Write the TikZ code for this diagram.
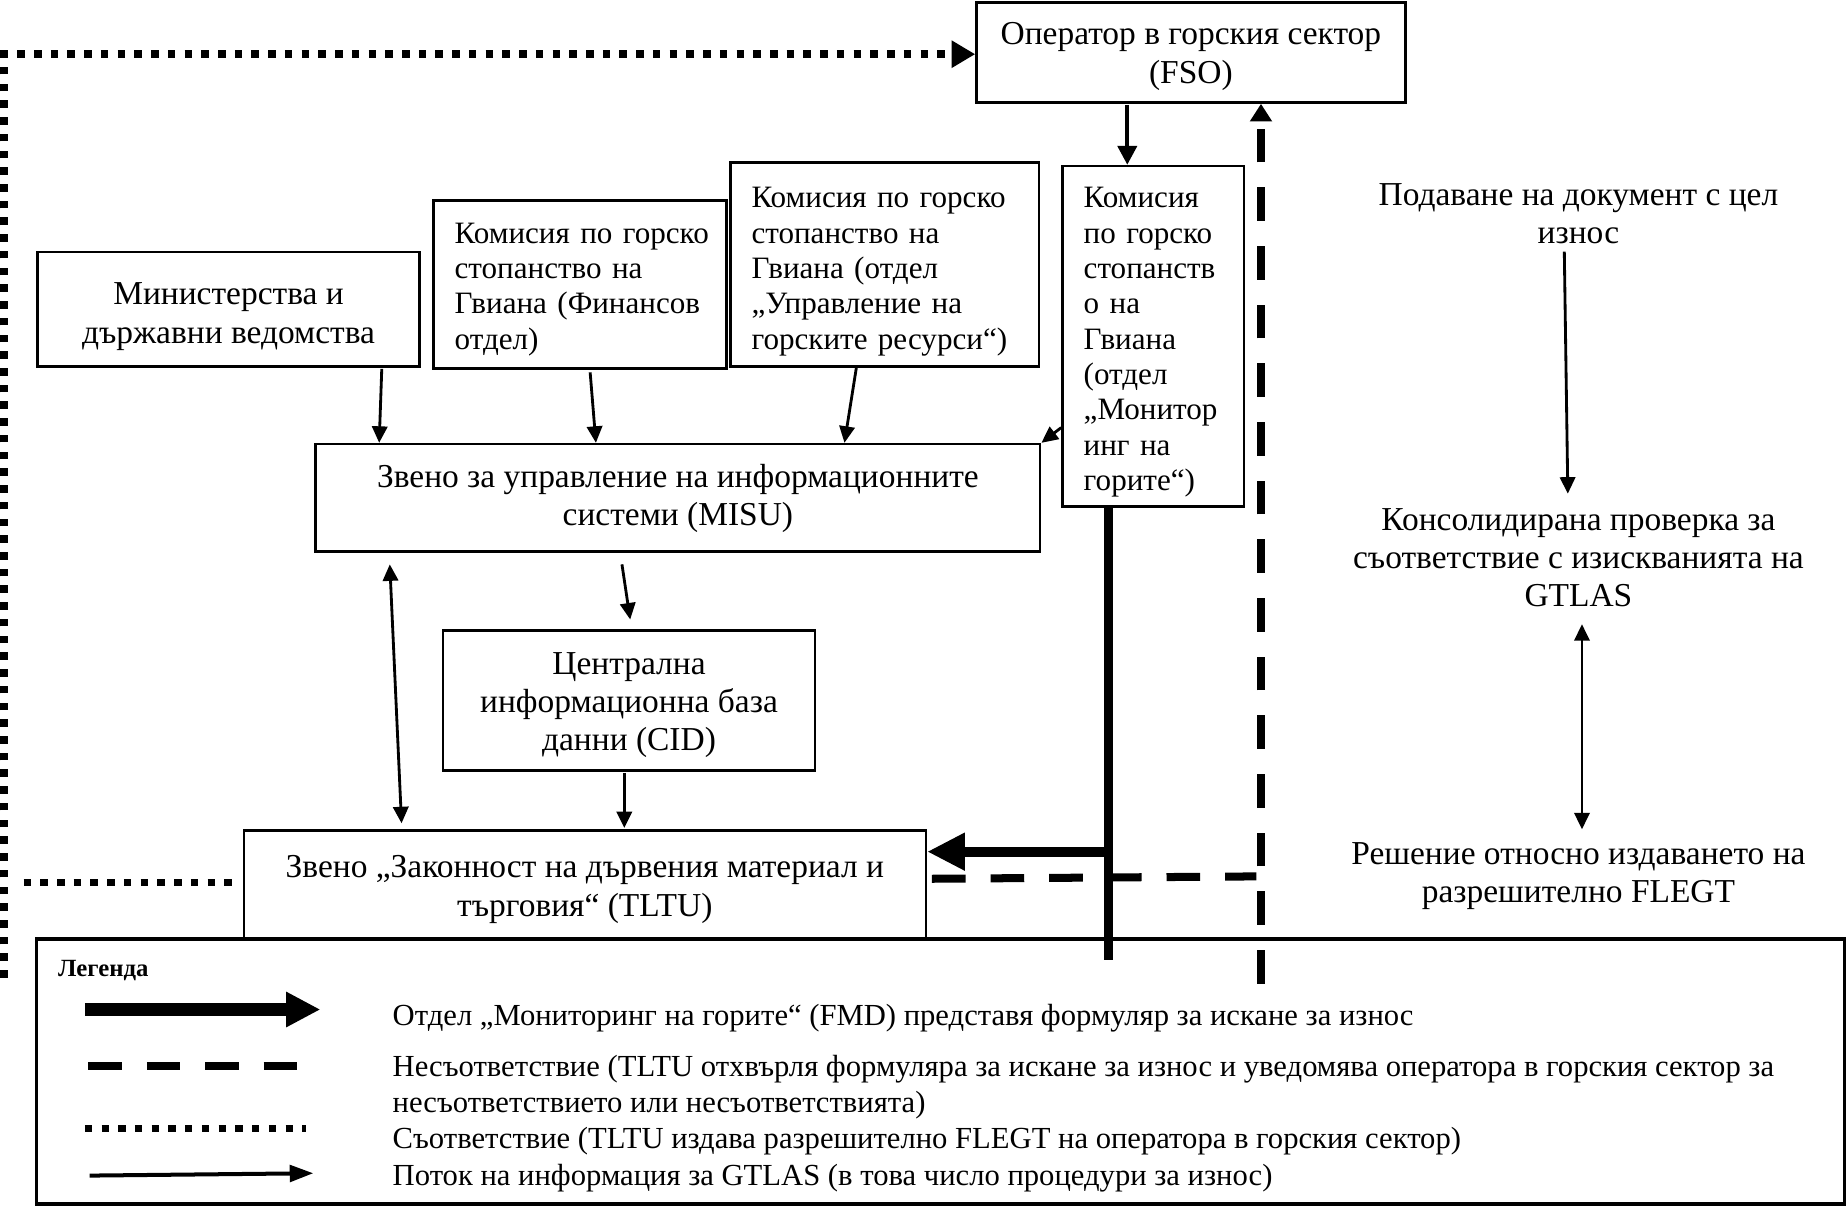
\documentclass[tikz,border=0pt]{standalone}
\usepackage{fontspec}
\setmainfont{Liberation Serif}
\usetikzlibrary{arrows.meta,calc}
\newcommand{\myln}[1]{\mbox{#1}}
\newcommand{\tp}[1]{\rule{0pt}{#1}}
\begin{document}
\begin{tikzpicture}[x=0.5pt,y=-0.5pt,
  box/.style={draw, line width=1.1pt, inner sep=0pt},
  lbox/.style={align=left, font=\fontsize{13.2}{15}\selectfont},
  cbox/.style={align=center, font=\fontsize{14.2}{16.3}\selectfont},
  lt/.style={align=left, inner sep=0pt, font=\fontsize{13}{15}\selectfont},
  arr/.style={line width=1.2pt, -{Triangle[length=7pt,width=6.5pt]}},
  darr/.style={line width=1.2pt, {Triangle[length=7pt,width=6.5pt]}-{Triangle[length=7pt,width=6.5pt]}},
  fsoarr/.style={line width=1.8pt, -{Triangle[length=8pt,width=8pt]}},
  fmd/.style={line width=4.2pt},
  fmdarr/.style={line width=4.2pt, -{Triangle[length=16pt,width=15pt]}},
  nonc/.style={line width=3.4pt, dash pattern=on 14.3pt off 10.6pt},
  conf/.style={line width=3.2pt, dash pattern=on 3.2pt off 3.9pt}
]
\useasboundingbox (0,0) rectangle (1568,1025);

% legend box (drawn first so lines pass over it)
\node[box, line width=1.5pt, minimum width=767.5pt, minimum height=112.5pt] (leg) at (798.5,909.5) {};

% boxes
\node[box, cbox, minimum width=182pt, minimum height=42.5pt] (fso) at (1011,44.5) {\tp{13.1pt}Оператор в горския сектор\\[0.3pt](FSO)};
\node[box, cbox, minimum width=162pt, minimum height=48.5pt] (min) at (194,262.5) {\tp{15.4pt}Министерства и\\държавни ведомства};
\node[box, lbox, text width=106.5pt, minimum width=124.5pt, minimum height=71.5pt] (fin) at (492.5,241.5) {\tp{12.8pt}\myln{Комисия по горско}\\\myln{стопанство на}\\\myln{Гвиана (Финансов}\\\myln{отдел)}};
\node[box, lbox, text width=113pt, minimum width=131pt, minimum height=86.5pt] (res) at (751,224.5) {\tp{14.8pt}\myln{Комисия по горско}\\\myln{стопанство на}\\\myln{Гвиана (отдел}\\\myln{„Управление на}\\\myln{горските ресурси“)}};
\node[box, lbox, text width=59pt, minimum width=77pt, minimum height=144.5pt] (mon) at (979,285.5) {\tp{13.8pt}\myln{Комисия}\\\myln{по горско}\\\myln{стопанств}\\\myln{о на}\\\myln{Гвиана}\\\myln{(отдел}\\\myln{„Монитор}\\\myln{инг на}\\\myln{горите“)}};
\node[box, cbox, minimum width=307.5pt, minimum height=45.5pt] (misu) at (575.5,422.5) {\tp{10.6pt}Звено за управление на информационните\\системи (MISU)};
\node[box, cbox, minimum width=158pt, minimum height=59.5pt] (cid) at (534,594.5) {\tp{13.4pt}Централна\\информационна база\\данни (CID)};
\node[box, cbox, minimum width=289.5pt, minimum height=46pt] (tltu) at (496.5,751) {\tp{13.6pt}Звено „Законност на дървения материал и\\търговия“ (TLTU)};

% right column
\node[cbox, inner sep=0pt] (sub) at (1340,181.5) {Подаване на документ с цел\\износ};
\node[cbox, inner sep=0pt] (chk) at (1340,473.5) {Консолидирана проверка за\\съответствие с изискванията на\\GTLAS};
\node[cbox, inner sep=0pt] (dec) at (1340,744) {Решение относно издаването на\\разрешително FLEGT};

\draw[arr] ($(sub.south)+(-12,6)$) -- ($(chk.north)+(-9,-12)$);
\draw[darr] ($(chk.south)+(3,14)$) -- ($(dec.north)+(3,-11)$);

% thin arrows
\draw[fsoarr] ($(fso.south)+(-54,1)$) -- ($(mon.north)+(-22,0)$);
\draw[arr] ($(min.south east)+(-33,1)$) -- ($(misu.north west)+(55,0)$);
\draw[arr] ($(fin.south)+(8.5,2)$) -- ($(misu.north west)+(239,0)$);
\draw[arr] ($(res.south)+(-24,0)$) -- ($(misu.north west)+(450,0)$);
\draw[arr] ($(mon.west)+(0,77.5)$) -- (misu.north east);
\draw[arr] ($(misu.south)+(-47.5,10)$) -- ($(cid.north)+(1,-8)$);
\draw[darr] ($(misu.south west)+(64,10)$) -- ($(tltu.north west)+(135,-5)$);
\draw[arr] ($(cid.south)+(-4,1)$) -- ($(tltu.north)+(33.5,-1)$);

% FMD thick line
\coordinate (fmdJ) at (941,723);
\coordinate (fmdB) at (941,815);
\draw[fmd] (mon.south -| fmdB) -- (fmdB);
\draw[fmdarr] (fmdJ) -- (fmdJ -| tltu.east);

% non-compliance dashed
\coordinate (dashB) at (1070.5,835);
\draw[nonc, -{Triangle[length=7.5pt,width=9pt]}] (dashB) -- (dashB |- fso.south);
\draw[nonc] ($(tltu.east)+(4,-5)$) -- ($(dashB |- tltu.east)+(-4,-7)$);

% compliance dotted
\coordinate (dotB) at (3.5,830);
\coordinate (dotC) at (3.5,46);
\draw[conf, -{Triangle[length=10pt,width=11pt]}] (dotB) -- (dotC) -- (dotC -| fso.west);
\coordinate (dotL) at (20,749);
\draw[conf] (dotL) -- ($(tltu.west)+(-9,-2)$);

% legend
\node[anchor=west, inner sep=0pt, font=\bfseries\fontsize{10.5}{12}\selectfont] (legt) at (49,824) {Легенда};
\coordinate (l1a) at (72,857); \coordinate (l1b) at (272,857);
\coordinate (l2a) at (75,905); \coordinate (l2b) at (252,905);
\coordinate (l3a) at (72,958); \coordinate (l3b) at (260,958);
\coordinate (l4a) at (76,998); \coordinate (l4b) at (266,996);
\draw[line width=5.5pt, -{Triangle[length=14.5pt,width=14pt]}] (l1a) -- (l1b);
\draw[line width=3.5pt, dash pattern=on 14.2pt off 10.6pt] (l2a) -- (l2b);
\draw[line width=3.1pt, dash pattern=on 3.1pt off 4pt] (l3a) -- (l3b);
\draw[line width=1.7pt, -{Triangle[length=10pt,width=7pt]}] (l4a) -- (l4b);
\node[lt, anchor=west] (lt1) at (333,864) {Отдел „Мониторинг на горите“ (FMD) представя формуляр за искане за износ};
\node[lt, anchor=west] (lt2) at (333,923) {Несъответствие (TLTU отхвърля формуляра за искане за износ и уведомява оператора в горския сектор за\\несъответствието или несъответствията)};
\node[lt, anchor=west] (lt3) at (333,969) {Съответствие (TLTU издава разрешително FLEGT на оператора в горския сектор)};
\node[lt, anchor=west] (lt4) at (333,1000) {Поток на информация за GTLAS (в това число процедури за износ)};
\end{tikzpicture}
\end{document}
